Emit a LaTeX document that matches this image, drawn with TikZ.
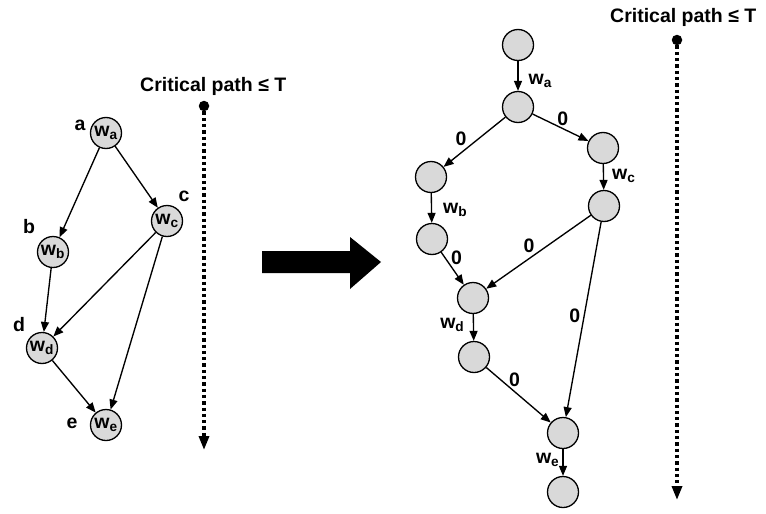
\documentclass[tikz,border=0pt]{standalone}
\usepackage{fontspec}
\setmainfont{Liberation Sans}
\usepackage{tikz}
\usetikzlibrary{arrows.meta}

\tikzset{
  vtx/.style={circle,draw,line width=1.3pt,fill=black!15,minimum size=31pt,inner sep=0pt,
    font=\fontsize{19.5}{20}\selectfont\bfseries},
  lbl/.style={inner sep=1pt,font=\fontsize{19.5}{20}\selectfont\bfseries},
  edge/.style={line width=1.35pt,-{Triangle[length=10pt,width=8pt]}},
  crit/.style={line width=3.3pt,dash pattern=on 3.3pt off 3pt,-{Triangle[length=14pt,width=10pt]}},
  critdot/.style={circle,fill,inner sep=0pt,minimum size=10.5pt},
}

\begin{document}
\begin{tikzpicture}[x=1pt,y=-1pt]
      \useasboundingbox(0,0)rectangle(766,514);

      \node[vtx](a) at (106,133){w\textsubscript{a}};
      \node[vtx](b) at (53,252){w\textsubscript{b}};
      \node[vtx](c) at (167,221){w\textsubscript{c}};
      \node[vtx](d) at (42,348){w\textsubscript{d}};
      \node[vtx](e) at (106,425){w\textsubscript{e}};
      \node[lbl](la) at (80,125){a};
      \node[lbl](lb) at (29,227){b};
      \node[lbl](lc) at (184,196){c};
      \node[lbl](ld) at (19,325){d};
      \node[lbl](le) at (72,423){e};

      \draw[edge](a)--(b);
      \draw[edge](a)--(c);
      \draw[edge](b)--(d);
      \draw[edge](c)--(d);
      \draw[edge](c)--(e);
      \draw[edge](d)--(e);

      \node[lbl,anchor=base west](critL) at (139,91){Critical path ≤ T};
      \node[critdot](dotL) at (204,106){};
      \coordinate(tipL) at (204,450);
      \draw[crit](dotL)--(tipL);

      \fill(262,251)--(350,251)--(350,237)--(381,262)--(350,289)--(350,273)--(262,273)--cycle;

      \node[vtx](as) at (518,45){};
      \node[vtx](ae) at (518,107){};
      \node[vtx](cs) at (603,148){};
      \node[vtx](ce) at (604,206){};
      \node[vtx](bs) at (431,177){};
      \node[vtx](be) at (432,239){};
      \node[vtx](ds) at (473,298){};
      \node[vtx](de) at (474,357){};
      \node[vtx](es) at (563,433){};
      \node[vtx](ee) at (563,492){};

      \draw[edge](as)--node[lbl,pos=.68,right=9pt]{w\textsubscript{a}}(ae);
      \draw[edge](ae)--node[lbl,pos=.44,left=10pt]{0}(bs);
      \draw[edge](ae)--node[lbl,pos=.54,above=1.5pt]{0}(cs);
      \draw[edge](cs)--node[lbl,pos=.46,right=7pt]{w\textsubscript{c}}(ce);
      \draw[edge](bs)--node[lbl,pos=.55,right=10pt]{w\textsubscript{b}}(be);
      \draw[edge](be)--node[lbl,pos=.17,right=4.5pt]{0}(ds);
      \draw[edge](ce)--node[lbl,pos=.59,above=4.5pt]{0}(ds);
      \draw[edge](ce)--node[lbl,pos=.48,left=2.4pt]{0}(es);
      \draw[edge](ds)--node[lbl,pos=.4,left=7.5pt]{w\textsubscript{d}}(de);
      \draw[edge](de)--node[lbl,pos=.44,above=3.4pt]{0}(es);
      \draw[edge](es)--node[lbl,pos=.41,left=2pt]{w\textsubscript{e}}(ee);

      \node[lbl,anchor=base west](critR) at (609,23){Critical path ≤ T};
      \node[critdot](dotR) at (677,40){};
      \coordinate(tipR) at (677,500);
      \draw[crit](dotR)--(tipR);
\end{tikzpicture}
\end{document}
